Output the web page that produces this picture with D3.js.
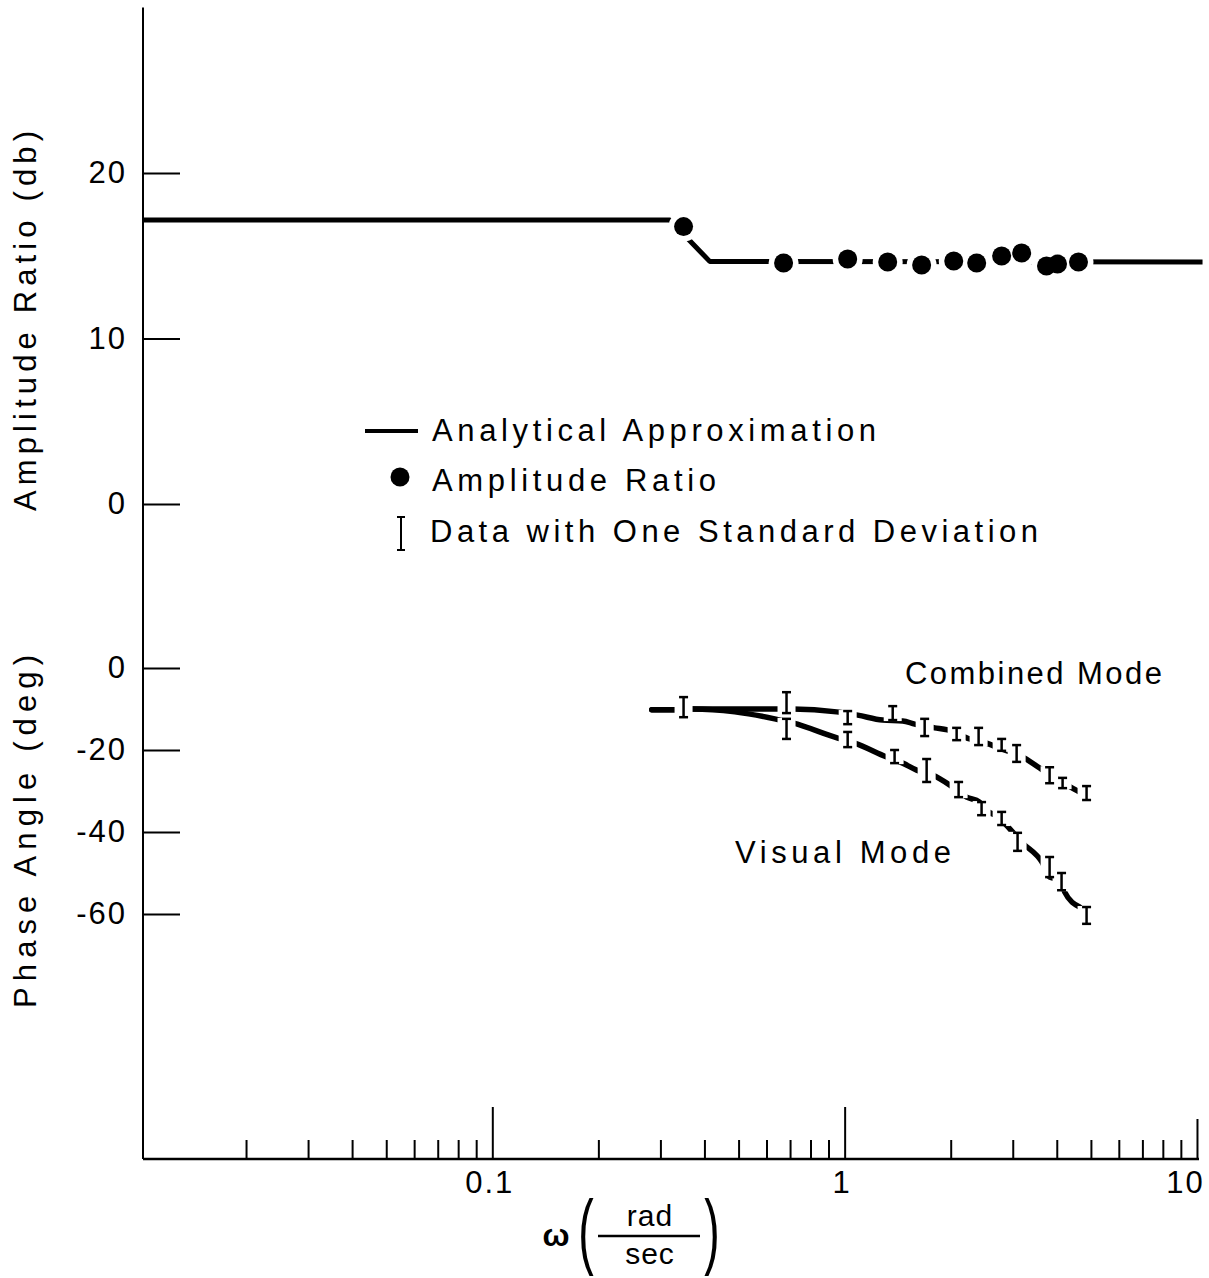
<!DOCTYPE html>
<html><head><meta charset="utf-8">
<script src="https://cdn.jsdelivr.net/npm/d3@7"></script>
<style>
html,body{margin:0;padding:0;background:#fff;}
text{font-family:"Liberation Sans",Arial,sans-serif;fill:#000;}
</style></head>
<body>
<svg id="c" width="1209" height="1278"></svg>
<script>
// ---- data ----
const xMajorTicks = [0.1, 1, 10];
const xTickLabels = ["0.1", "1", "10"];
const xMinorTicks = [0.02,0.03,0.04,0.05,0.06,0.07,0.08,0.09,0.2,0.3,0.4,0.5,0.6,0.7,0.8,0.9,2,3,4,5,6,7,8,9];
const ampTicks = [0, 10, 20];
const phaseTicks = [0, -20, -40, -60];

// analytical approximation (amplitude, db)
const analyticW  = [0.0102, 0.319, 0.414, 10.37];
const analyticDb = [17.16, 17.16, 14.66, 14.62];

// measured amplitude ratio (db)
const ampW  = [0.349, 0.671, 1.02, 1.325, 1.654, 2.04, 2.37, 2.79, 3.18, 3.74, 4.02, 4.61];
const ampDb = [16.76, 14.56, 14.80, 14.62, 14.44, 14.68, 14.56, 14.99, 15.17, 14.38, 14.50, 14.62];

// phase curves (deg)
const combinedW   = [0.2835, 0.3295, 0.37, 0.633, 0.712, 0.949, 1.089, 1.282, 1.462, 1.581, 1.80, 1.96, 2.264, 2.529, 2.70, 3.242, 3.576, 4.265, 4.704];
const combinedDeg = [-10.2, -10.2, -10.0, -10.0, -10.0, -10.7, -11.5, -12.7, -12.9, -13.7, -14.6, -15.1, -17.3, -18.3, -19.3, -22.0, -24.4, -28.5, -30.5];
const visualW     = [0.2835, 0.3295, 0.37, 0.488, 0.633, 0.712, 0.956, 1.068, 1.316, 1.462, 1.601, 1.777, 1.985, 2.219, 2.416, 2.496, 2.70, 3.199, 3.647, 3.817, 4.127, 4.21, 4.644];
const visualDeg   = [-10.2, -10.2, -10.0, -10.7, -12.4, -13.4, -17.1, -18.3, -21.7, -23.2, -24.9, -26.1, -28.5, -31.5, -32.7, -34.4, -36.1, -42.7, -47.6, -51.0, -51.7, -54.6, -58.3];

// error bars: one standard deviation (deg)
const combinedBarW  = [0.349, 0.684, 1.02, 1.369, 1.687, 2.079, 2.40, 2.79, 3.077, 3.817, 4.155, 4.86];
const combinedBarHi = [-7.1, -5.9, -10.5, -9.3, -12.4, -14.6, -14.6, -17.3, -18.8, -24.2, -26.8, -28.8];
const combinedBarLo = [-12.0, -11.0, -13.7, -12.7, -16.6, -17.6, -18.8, -20.2, -22.9, -28.1, -29.3, -32.2];
const visualBarW  = [0.684, 1.02, 1.386, 1.709, 2.106, 2.447, 2.79, 3.096, 3.817, 4.127, 4.86];
const visualBarHi = [-12.4, -15.6, -20.0, -22.2, -27.8, -32.7, -35.1, -40.2, -46.1, -50.0, -58.3];
const visualBarLo = [-17.3, -19.3, -23.2, -27.8, -31.5, -35.9, -38.3, -44.6, -51.0, -54.2, -62.4];

// ---- scales ----
const svg = d3.select("#c");
const x = d3.scaleLog().domain([0.0102, 10.1]).range([143, 1198.5]);
const yAmp = d3.scaleLinear().domain([0, 30]).range([504, 7.5]);
const yPh = d3.scaleLinear().domain([0, -120]).range([668, 1160]);
const axisY = 1159;

// ---- axes ----
svg.append("line").attr("x1", 143).attr("x2", 143).attr("y1", yAmp(30)).attr("y2", axisY)
  .attr("stroke", "#000").attr("stroke-width", 2);
svg.append("line").attr("x1", 143).attr("x2", 1199).attr("y1", axisY).attr("y2", axisY)
  .attr("stroke", "#000").attr("stroke-width", 2.5);

function styleAxis(g){
  g.select(".domain").remove();
  g.selectAll(".tick line").attr("stroke", "#000").attr("stroke-width", 2);
  g.selectAll(".tick text").attr("font-family", "Liberation Sans, Arial, sans-serif")
    .attr("font-size", 31).attr("letter-spacing", 2).attr("fill", "#000");
}
svg.append("g").attr("transform", "translate(143,0)")
  .call(d3.axisLeft(yAmp).tickValues(ampTicks).tickSizeInner(-37).tickSizeOuter(0).tickPadding(16).tickFormat(d3.format("d")))
  .call(styleAxis);
svg.append("g").attr("transform", "translate(143,0)")
  .call(d3.axisLeft(yPh).tickValues(phaseTicks).tickSizeInner(-37).tickSizeOuter(0).tickPadding(16).tickFormat(d => d === 0 ? "0" : "-" + Math.abs(d)))
  .call(styleAxis);

// x ticks (upward)
svg.append("g").attr("transform", `translate(0,${axisY})`)
  .call(d3.axisTop(x).tickValues(xMinorTicks).tickSize(19).tickFormat(""))
  .call(styleAxis);
svg.append("g").attr("transform", `translate(0,${axisY})`)
  .call(d3.axisTop(x).tickValues(xMajorTicks.slice(0, 2)).tickSize(52).tickFormat(""))
  .call(styleAxis);
svg.append("g").attr("transform", `translate(0,${axisY})`)
  .call(d3.axisTop(x).tickValues(xMajorTicks.slice(2)).tickSize(40).tickFormat(""))
  .call(styleAxis);
svg.append("g").attr("transform", `translate(0,${axisY})`)
  .call(d3.axisBottom(x).tickValues(xMajorTicks).tickSize(0).tickPadding(12).tickFormat((d, i) => xTickLabels[i]))
  .call(styleAxis)
  .call(g => g.selectAll(".tick text").attr("dx", (d, i) => i === 2 ? -12 : -3));

// ---- amplitude ----
const ampLine = d3.line().x(d => x(d[0])).y(d => yAmp(d[1]));
svg.append("path").datum(analyticW.map((w, i) => [w, analyticDb[i]]))
  .attr("d", ampLine).attr("fill", "none").attr("stroke", "#000").attr("stroke-width", 5)
  .attr("stroke-linejoin", "round");
const ampPts = ampW.map((w, i) => [w, ampDb[i]]);
svg.append("g").selectAll("circle").data(ampPts).join("circle")
  .attr("cx", d => x(d[0])).attr("cy", d => yAmp(d[1])).attr("r", 15).attr("fill", "#fff");
svg.append("g").selectAll("circle").data(ampPts).join("circle")
  .attr("cx", d => x(d[0])).attr("cy", d => yAmp(d[1])).attr("r", 9.5).attr("fill", "#000");

// ---- phase ----
const phLine = d3.line().x(d => x(d[0])).y(d => yPh(d[1])).curve(d3.curveMonotoneX);
[[combinedW, combinedDeg], [visualW, visualDeg]].forEach(([w, v]) => {
  svg.append("path").datum(w.map((a, i) => [a, v[i]]))
    .attr("d", phLine).attr("fill", "none").attr("stroke", "#000").attr("stroke-width", 5.5)
    .attr("stroke-linecap", "round");
});
const bars = combinedBarW.map((w, i) => [w, combinedBarHi[i], combinedBarLo[i]])
  .concat(visualBarW.map((w, i) => [w, visualBarHi[i], visualBarLo[i]]));
svg.append("g").selectAll("rect").data(bars).join("rect")
  .attr("x", d => x(d[0]) - 9).attr("width", 18)
  .attr("y", d => yPh(d[1]) - 1).attr("height", d => yPh(d[2]) - yPh(d[1]) + 2)
  .attr("fill", "#fff");
const eb = svg.append("g").attr("stroke", "#000").attr("stroke-width", 2.5);
bars.forEach(d => {
  const cx = x(d[0]), y1 = yPh(d[1]), y2 = yPh(d[2]);
  eb.append("line").attr("x1", cx).attr("x2", cx).attr("y1", y1).attr("y2", y2);
  eb.append("line").attr("x1", cx - 4.5).attr("x2", cx + 4.5).attr("y1", y1).attr("y2", y1);
  eb.append("line").attr("x1", cx - 4.5).attr("x2", cx + 4.5).attr("y1", y2).attr("y2", y2);
});

// ---- labels ----
function txt(s, xx, yy, opts = {}){
  const t = svg.append("text").attr("x", xx).attr("y", yy).text(s)
    .attr("font-size", opts.size || 31);
  if (opts.len) t.attr("textLength", opts.len).attr("lengthAdjust", "spacing");
  if (opts.anchor) t.attr("text-anchor", opts.anchor);
  if (opts.rot) t.attr("transform", `rotate(-90,${xx},${yy})`);
  return t;
}
// legend
svg.append("line").attr("x1", 365).attr("x2", 418).attr("y1", 431).attr("y2", 431)
  .attr("stroke", "#000").attr("stroke-width", 4);
svg.append("circle").attr("cx", 400).attr("cy", 477).attr("r", 9.5).attr("fill", "#000");
const lg = svg.append("g").attr("stroke", "#000").attr("stroke-width", 2);
lg.append("line").attr("x1", 401).attr("x2", 401).attr("y1", 517).attr("y2", 550);
lg.append("line").attr("x1", 397).attr("x2", 405).attr("y1", 517).attr("y2", 517);
lg.append("line").attr("x1", 397).attr("x2", 405).attr("y1", 550).attr("y2", 550);
txt("Analytical  Approximation", 432, 441, {len: 444});
txt("Amplitude  Ratio", 432, 491, {len: 284});
txt("Data  with  One  Standard  Deviation", 430, 542, {len: 608});
txt("Combined  Mode", 905, 684, {len: 257});
txt("Visual  Mode", 735, 863, {len: 216});
// axis titles
txt("Amplitude  Ratio  (db)", 36, 511, {rot: true, len: 380, size: 31});
txt("Phase  Angle  (deg)", 36, 1008, {rot: true, len: 353, size: 31});
// x title
txt("ω", 556, 1246, {size: 32, anchor: "middle"}).attr("font-weight", "bold");
svg.append("text").attr("transform", "translate(586,1259) scale(0.8,1.45)")
  .attr("text-anchor", "middle").attr("font-size", 58).text("(");
svg.append("text").attr("transform", "translate(712,1259) scale(0.8,1.45)")
  .attr("text-anchor", "middle").attr("font-size", 58).text(")");
txt("rad", 650, 1226, {size: 30, anchor: "middle"}).attr("letter-spacing", 1);
svg.append("line").attr("x1", 598).attr("x2", 700).attr("y1", 1236).attr("y2", 1236)
  .attr("stroke", "#000").attr("stroke-width", 2.5);
txt("sec", 650, 1264, {size: 30, anchor: "middle"}).attr("letter-spacing", 1);
</script>
</body></html>
